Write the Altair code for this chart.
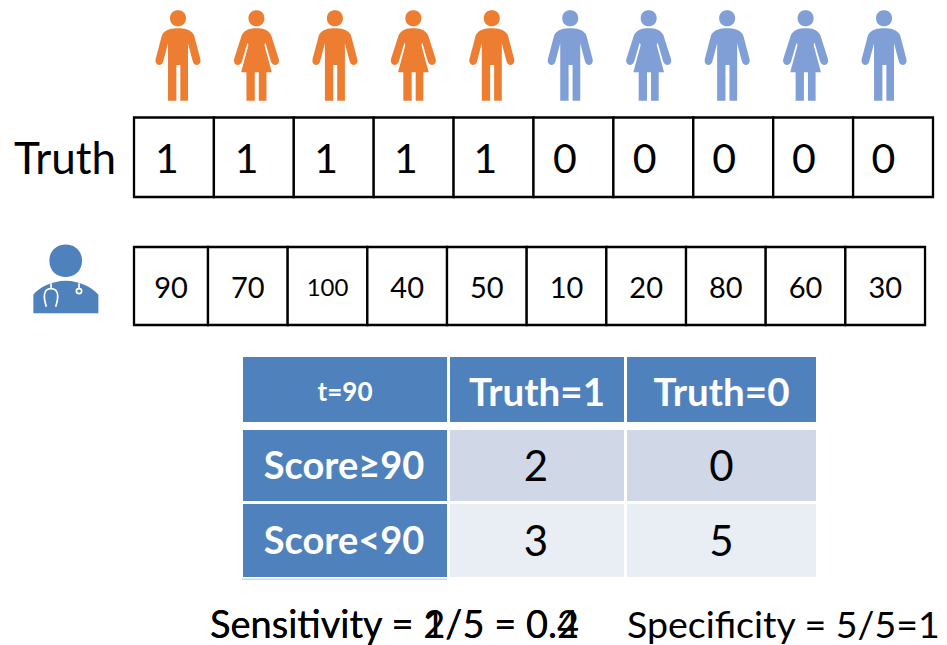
import altair as alt
import pandas as pd

# ---- content ----
TRUTH = [1, 1, 1, 1, 1, 0, 0, 0, 0, 0]
SCORES = [90, 70, 100, 40, 50, 10, 20, 80, 60, 30]
PEOPLE = ["m", "f", "m", "f", "m", "m", "f", "m", "f", "m"]
MATRIX_COLS = ["t=90", "Truth=1", "Truth=0"]
MATRIX_ROWS = ["Score≥90", "Score<90"]
MATRIX_VALUES = [[2, 0], [3, 5]]
SENS_TEXTS = ["Sensitivity = 2/5 = 0.4", "Sensitivity = 1/5 = 0.2"]
SPEC_TEXT = "Specificity = 5/5=1"

# ---- layout (page pixels) ----
W, H = 931, 637
SX = alt.Scale(domain=[8, 8 + W], nice=False, zero=False)
SY = alt.Scale(domain=[8 + H, 8], nice=False, zero=False)
FONT = "Lato"
ORANGE, PERSON_BLUE, BLUE = "#ED7D31", "#7F9FD6", "#4F81BD"
LIGHT1, LIGHT2 = "#D0D8E8", "#E9EDF4"

def X(f):
    return alt.X(f + ":Q", scale=SX, axis=None)
def Y(f):
    return alt.Y(f + ":Q", scale=SY, axis=None)

def rects(df, **kw):
    return alt.Chart(df).mark_rect(**kw).encode(
        x=X("x0"), x2="x1:Q", y=Y("y0"), y2="y1:Q")

def texts(df, color="black", weight="normal", align="center"):
    return alt.Chart(df).mark_text(
        font=FONT, color=color, fontWeight=weight, align=align, baseline="middle"
    ).encode(x=X("x"), y=Y("y"), text="t:N", size=alt.Size("fs:Q", scale=None, legend=None))

# --- icon shapes; coordinates normalised to the -1..1 symbol box
def norm(points, cy=166.0, half=136.0):
    out = []
    for p in points:
        if isinstance(p, str):
            out.append(p)
        else:
            out.append(f"{p[0]/half:.4f} {(p[1]-cy)/half:.4f}")
    return " ".join(out)

def head():
    return norm(["M", (-24, 55), "C", (-24, 23), (24, 23), (24, 55), "C", (24, 87), (-24, 87), (-24, 55), "Z"])

MAN = head() + " " + norm([
    "M", (0, 85), "C", (-18, 85), (-38, 88), (-48, 105),
    "L", (-67, 177), "Q", (-70, 192), (-57, 195), "Q", (-47, 195), (-44, 183),
    "L", (-30, 130), "L", (-30, 302), "L", (-5, 302), "L", (-5, 195), "L", (7, 195),
    "L", (7, 302), "L", (30, 302), "L", (30, 130), "L", (44, 183),
    "Q", (47, 195), (57, 195), "Q", (70, 192), (67, 177), "L", (48, 105),
    "C", (38, 88), (18, 85), (0, 85), "Z"])
WOMAN = head() + " " + norm([
    "M", (0, 85), "C", (-18, 85), (-34, 88), (-44, 105),
    "L", (-67, 177), "Q", (-70, 192), (-57, 195), "Q", (-47, 195), (-43, 183),
    "L", (-27, 128), "L", (-24, 135), "L", (-46, 217), "L", (-30, 217), "L", (-30, 302), "L", (-5, 302),
    "L", (-5, 217), "L", (7, 217), "L", (7, 302), "L", (30, 302), "L", (30, 217), "L", (46, 217),
    "L", (24, 135), "L", (27, 128), "L", (43, 183), "Q", (47, 195), (57, 195), "Q", (70, 192), (67, 177),
    "L", (44, 105), "C", (34, 88), (18, 85), (0, 85), "Z"])

def dnorm(points):
    return norm(points, cy=146.0, half=104.0)
DOCTOR = dnorm(["M", (-49, 92), "C", (-49, 27), (49, 27), (49, 92), "C", (49, 157), (-49, 157), (-49, 92), "Z",
    "M", (-97, 250), "L", (-97, 194), "C", (-80, 172), (-40, 152), (0, 152),
    "C", (40, 152), (80, 172), (98, 194), "L", (98, 250), "Z"])
STETH = dnorm(["M", (-44, 160), "L", (-44, 176), "C", (-70, 176), (-66, 205), (-58, 230),
    "M", (-44, 176), "C", (-18, 176), (-22, 205), (-30, 230),
    "M", (40, 160), "L", (40, 176),
    "M", (32, 183), "C", (32, 173), (48, 173), (48, 183), "C", (48, 193), (32, 193), (32, 183), "Z"])

layers = []

# people
step = 78.45
for kind, path in (("m", MAN), ("f", WOMAN)):
    df = pd.DataFrame([
        {"x": 178 + i * step, "y": 55.3, "c": ORANGE if t == 1 else PERSON_BLUE}
        for i, (p, t) in enumerate(zip(PEOPLE, TRUTH)) if p == kind])
    layers.append(alt.Chart(df).mark_point(shape=path, size=8218, filled=True, opacity=1, strokeWidth=0)
                  .encode(x=X("x"), y=Y("y"), color=alt.Color("c:N", scale=None)))

# truth row
n = len(TRUTH)
truth_w = 79.9
tr = pd.DataFrame({"x0": [134 + i * truth_w for i in range(n)],
                   "x1": [134 + (i + 1) * truth_w for i in range(n)],
                   "y0": 117.5, "y1": 197})
layers.append(rects(tr, fill="white", stroke="black", strokeWidth=2.3))
layers.append(texts(pd.DataFrame({"x": [167 + i * 79.6 for i in range(n)], "y": 161,
                                  "t": [str(v) for v in TRUTH], "fs": 41})))
layers.append(texts(pd.DataFrame({"x": [14], "y": [161], "t": ["Truth"], "fs": [44]}), align="left"))

# doctor
layers.append(alt.Chart(pd.DataFrame({"x": [65.7], "y": [278.7]})).mark_point(
    shape=DOCTOR, size=4 * 34.67 ** 2, filled=True, opacity=1, strokeWidth=0, color=BLUE).encode(x=X("x"), y=Y("y")))
layers.append(alt.Chart(pd.DataFrame({"x": [65.7], "y": [278.7]})).mark_point(
    shape=STETH, size=4 * 34.67 ** 2, filled=False, opacity=1, strokeWidth=1.7, color="white").encode(x=X("x"), y=Y("y")))

# score row
edges = [134] + [208 + i * 79.67 for i in range(n)]
sr = pd.DataFrame({"x0": edges[:-1], "x1": edges[1:], "y0": 247, "y1": 325})
layers.append(rects(sr, fill="white", stroke="black", strokeWidth=2.3))
layers.append(texts(pd.DataFrame({
    "x": [(a + b) / 2 for a, b in zip(edges[:-1], edges[1:])], "y": 288.5,
    "t": [str(v) for v in SCORES],
    "fs": [29 if v < 100 else 24 for v in SCORES]})))

# matrix
cols = [(243, 447), (450, 624), (627, 816)]
rows = [(430, 501), (504, 577)]
head_y = (357, 422)
hdr = [{"x0": c[0], "x1": c[1], "y0": head_y[0], "y1": head_y[1]} for c in cols]
hdr += [{"x0": cols[0][0], "x1": cols[0][1], "y0": r[0], "y1": r[1]} for r in rows]
hdr += [{"x0": cols[0][0] - 1, "x1": cols[0][1], "y0": 578.5, "y1": 580}]
layers.append(rects(pd.DataFrame(hdr[:-1]), fill=BLUE))
layers.append(rects(pd.DataFrame(hdr[-1:]), fill="#C9DAEE"))
for r, fill in zip(rows, (LIGHT1, LIGHT2)):
    layers.append(rects(pd.DataFrame([{"x0": c[0], "x1": c[1], "y0": r[0], "y1": r[1]} for c in cols[1:]]), fill=fill))
cx = [(a + b) / 2 for a, b in cols]
layers.append(texts(pd.DataFrame({"x": cx, "y": [393, 394, 394], "t": MATRIX_COLS, "fs": [26, 38.5, 38.5]}),
                    color="white", weight="bold"))
layers.append(texts(pd.DataFrame({"x": [344, 344], "y": [468, 543], "t": MATRIX_ROWS, "fs": [38, 38]}),
                    color="white", weight="bold"))
cells = [{"x": cx[j + 1] - (1 if j == 0 else 0), "y": (rows[i][0] + rows[i][1]) / 2 + 2,
          "t": str(MATRIX_VALUES[i][j]), "fs": 42} for i in range(2) for j in range(2)]
layers.append(texts(pd.DataFrame(cells)))

# metrics
for s in SENS_TEXTS:
    layers.append(texts(pd.DataFrame({"x": [210], "y": [627], "t": [s], "fs": [38]}), align="left"))
layers.append(texts(pd.DataFrame({"x": [627], "y": [627], "t": [SPEC_TEXT], "fs": [37.5]}), align="left"))

chart = alt.layer(*layers).properties(
    width=W, height=H, padding=0,
    autosize=alt.AutoSizeParams(type="none", contains="padding"),
).configure_view(stroke=None)

chart.save("out.html", embed_options={"renderer": "svg", "actions": False})
